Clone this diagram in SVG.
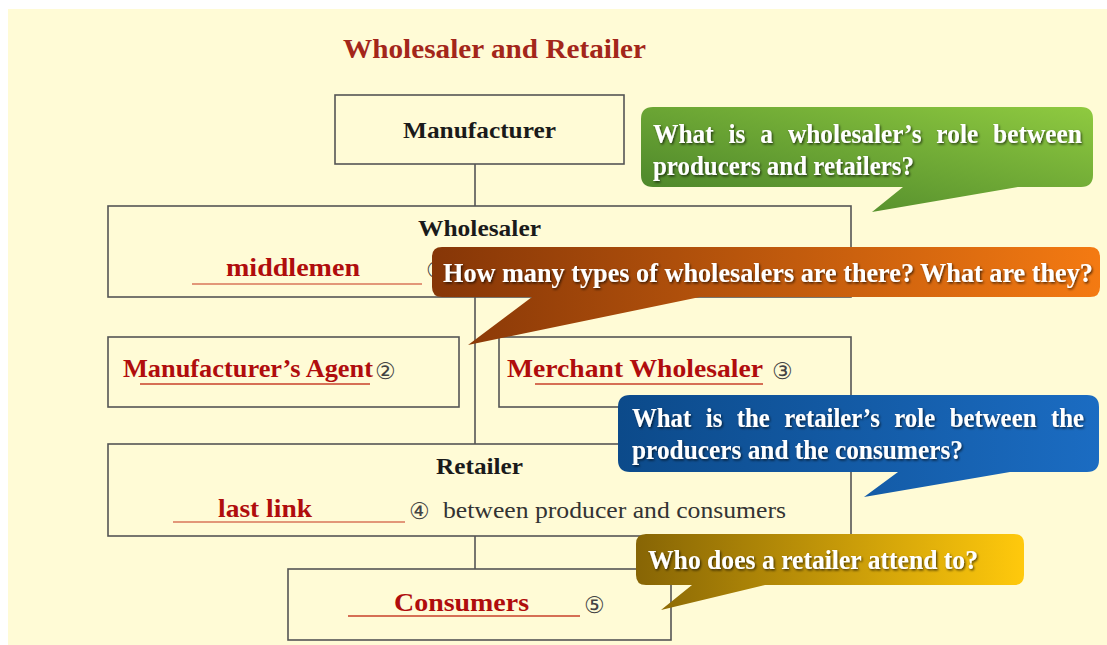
<svg xmlns="http://www.w3.org/2000/svg" width="1107" height="645" viewBox="0 0 1107 645">
<defs>
<style>
.box{fill:none;stroke:#555;stroke-width:1.6}
.con{stroke:#555;stroke-width:1.6;fill:none}
.hd{font-family:"Liberation Serif","Times New Roman",Times,serif;font-weight:bold;font-size:24px;fill:#1a1a1a}
.red{font-family:"Liberation Serif","Times New Roman",Times,serif;font-weight:bold;font-size:26px;fill:#b00d0d}
.num{font-family:"DejaVu Sans","Noto Sans",sans-serif;font-size:23px;fill:#444}
.plain{font-family:"Liberation Serif","Times New Roman",Times,serif;font-size:24px;fill:#333}
.ul{stroke:#d9765a;stroke-width:1.6}
.bt{font-family:"Liberation Serif","Times New Roman",Times,serif;font-weight:bold;font-size:27px;fill:#fff;filter:url(#sh)}
</style>
<filter id="sh" x="-5%" y="-30%" width="110%" height="160%">
<feDropShadow dx="1.2" dy="1.5" stdDeviation="0.8" flood-color="#000" flood-opacity="0.65"/>
</filter>
<linearGradient id="gGreen" x1="0" y1="1" x2="1" y2="0">
<stop offset="0" stop-color="#467f28"/><stop offset="1" stop-color="#8fca40"/>
</linearGradient>
<linearGradient id="gOrange" x1="0" y1="0" x2="1" y2="0">
<stop offset="0" stop-color="#863607"/><stop offset="1" stop-color="#f47a12"/>
</linearGradient>
<linearGradient id="gBlue" x1="0" y1="0" x2="1" y2="0">
<stop offset="0" stop-color="#0c4a8a"/><stop offset="1" stop-color="#1b6cc2"/>
</linearGradient>
<linearGradient id="gGold" x1="0" y1="0" x2="1" y2="0">
<stop offset="0" stop-color="#876505"/><stop offset="1" stop-color="#ffc90c"/>
</linearGradient>
</defs>
<rect x="0" y="0" width="1107" height="645" fill="#ffffff"/>
<rect x="8" y="9" width="1099" height="636" fill="#fffbd6"/>

<text x="343" y="58" textLength="303" lengthAdjust="spacingAndGlyphs" font-family="'Liberation Serif', 'Times New Roman', Times, serif" font-weight="bold" font-size="28" fill="#a3261a">Wholesaler and Retailer</text>

<g id="connectors">
<line class="con" x1="475" y1="164" x2="475" y2="206"/>
<line class="con" x1="475" y1="297" x2="475" y2="444"/>
<line class="con" x1="475" y1="536" x2="475" y2="569"/>
</g>

<g id="manufacturer">
<rect class="box" x="335" y="95" width="289" height="69"/>
<text class="hd" x="403" y="138" textLength="153" lengthAdjust="spacingAndGlyphs">Manufacturer</text>
</g>

<g id="wholesaler">
<rect class="box" x="108" y="206" width="743" height="91"/>
<text class="hd" x="418" y="236" textLength="123" lengthAdjust="spacingAndGlyphs">Wholesaler</text>
<line class="ul" x1="192" y1="284" x2="422" y2="284"/>
<text class="red" x="226" y="276" textLength="134" lengthAdjust="spacingAndGlyphs">middlemen</text>
<text class="num" x="426" y="278">①</text>
</g>

<g id="agent">
<rect class="box" x="108" y="337" width="351" height="70"/>
<line class="ul" x1="140" y1="384" x2="370" y2="384" style="stroke:#c8402a"/>
<text class="red" x="123" y="377" textLength="250" lengthAdjust="spacingAndGlyphs">Manufacturer’s Agent</text>
<text class="num" x="375" y="379">②</text>
</g>

<g id="merchant">
<rect class="box" x="499" y="337" width="352" height="70"/>
<line class="ul" x1="535" y1="384" x2="763" y2="384" style="stroke:#c8402a"/>
<text class="red" x="507" y="377" textLength="256" lengthAdjust="spacingAndGlyphs">Merchant Wholesaler</text>
<text class="num" x="772" y="379">③</text>
</g>

<g id="retailer">
<rect class="box" x="108" y="444" width="743" height="92"/>
<text class="hd" x="436" y="474" textLength="87" lengthAdjust="spacingAndGlyphs">Retailer</text>
<line class="ul" x1="173" y1="522" x2="405" y2="522"/>
<text class="red" x="218" y="517" textLength="94" lengthAdjust="spacingAndGlyphs">last link</text>
<text class="num" x="409" y="519">④</text>
<text class="plain" x="443" y="518" textLength="343" lengthAdjust="spacingAndGlyphs">between producer and consumers</text>
</g>

<g id="consumers">
<rect class="box" x="288" y="569" width="383" height="71"/>
<line class="ul" x1="348" y1="616" x2="580" y2="616" style="stroke:#c8402a"/>
<text class="red" x="394" y="611" textLength="135" lengthAdjust="spacingAndGlyphs">Consumers</text>
<text class="num" x="584" y="613">⑤</text>
</g>

<g id="callout-green">
<path fill="url(#gGreen)" d="M653,107 H1081 Q1093,107 1093,119 V175 Q1093,187 1081,187 H1018 L872,212 L903,187 H653 Q641,187 641,175 V119 Q641,107 653,107 Z"/>
<text class="bt" x="653" y="143" word-spacing="9" textLength="429" lengthAdjust="spacingAndGlyphs">What is a wholesaler’s role between</text>
<text class="bt" x="653" y="175" textLength="261" lengthAdjust="spacingAndGlyphs">producers and retailers?</text>
</g>

<g id="callout-orange">
<path fill="url(#gOrange)" d="M442,247 H1090 Q1100,247 1100,257 V287 Q1100,297 1090,297 H700 L468,345 L532,297 H442 Q432,297 432,287 V257 Q432,247 442,247 Z"/>
<text class="bt" x="443" y="282" font-size="26" textLength="650" lengthAdjust="spacingAndGlyphs">How many types of wholesalers are there? What are they?</text>
</g>

<g id="callout-blue">
<path fill="url(#gBlue)" d="M630,395 H1087 Q1099,395 1099,407 V460 Q1099,472 1087,472 H1010 L864,497 L898,472 H630 Q618,472 618,460 V407 Q618,395 630,395 Z"/>
<text class="bt" x="632" y="427" word-spacing="9" textLength="452" lengthAdjust="spacingAndGlyphs">What is the retailer’s role between the</text>
<text class="bt" x="632" y="459" textLength="331" lengthAdjust="spacingAndGlyphs">producers and the consumers?</text>
</g>

<g id="callout-gold">
<path fill="url(#gGold)" d="M646,534 H1014 Q1024,534 1024,544 V575 Q1024,585 1014,585 H765 L661,610 L692,585 H646 Q636,585 636,575 V544 Q636,534 646,534 Z"/>
<text class="bt" x="648" y="569" font-size="26" textLength="330" lengthAdjust="spacingAndGlyphs">Who does a retailer attend to?</text>
</g>
</svg>
